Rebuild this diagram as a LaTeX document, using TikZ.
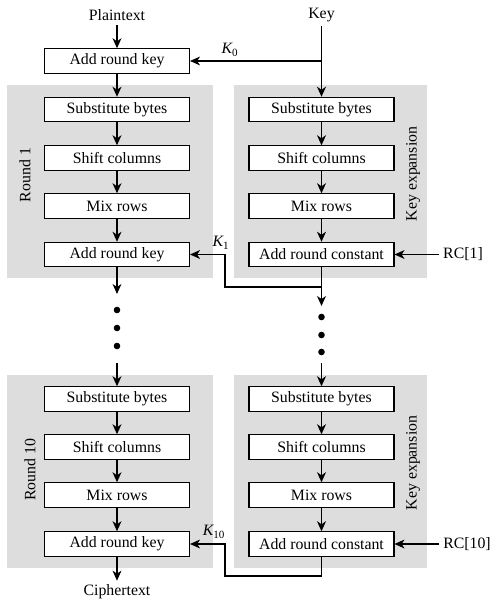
\documentclass[tikz,border=0pt]{standalone}
\usepackage{fontspec}
\setmainfont{Liberation Serif}
\definecolor{panelgray}{RGB}{221,221,221}
\usetikzlibrary{arrows.meta,calc}

\tikzset{
  stage/.style={draw, line width=0.9pt, fill=white, minimum width=4.35cm, minimum height=0.73cm, inner sep=0pt},
  flow/.style={line width=1.3pt, -{Stealth[length=8.5pt,width=7.5pt,inset=2.5pt]}},
  wire/.style={line width=1.3pt},
  vlabel/.style={rotate=90}
}

\begin{document}
\begin{tikzpicture}[x=0.03cm, y=-0.03cm, font=\fontsize{13.5}{16}\selectfont]
    \useasboundingbox (0,0) rectangle (500,602);

    % Gray panels
    \fill[panelgray] (7,85) rectangle (213,278);
    \fill[panelgray] (234,85) rectangle (427,278);
    \fill[panelgray] (7,375) rectangle (213,568);
    \fill[panelgray] (234,375) rectangle (427,568);

    % Inputs
    \node (plain) at (117,15) {Plaintext};
    \node (key) at (321.5,15) {Key};
    \node[stage] (ark0) at (117,61) {Add round key};

    % Round 1
    \node[stage] (sb1) at (117,109.5) {Substitute bytes};
    \node[stage] (sc1) at (117,158) {Shift columns};
    \node[stage] (mr1) at (117,206) {Mix rows};
    \node[stage] (ark1) at (117,254.5) {Add round key};
    \node[vlabel] (rnd1) at (25,175) {Round 1};

    % Key expansion 1
    \node[stage] (ksb1) at (321.5,109.5) {Substitute bytes};
    \node[stage] (ksc1) at (321.5,158) {Shift columns};
    \node[stage] (kmr1) at (321.5,206) {Mix rows};
    \node[stage] (arc1) at (321.5,254.5) {Add round constant};
    \node[vlabel] (kexp1) at (413,174) {Key expansion};
    \node (rc1) at (463,254.5) {RC[1]};

    % Round 10
    \node[stage] (sb10) at (117,399) {Substitute bytes};
    \node[stage] (sc10) at (117,447) {Shift columns};
    \node[stage] (mr10) at (117,495) {Mix rows};
    \node[stage] (ark10) at (117,544) {Add round key};
    \node[vlabel] (rnd10) at (30,470) {Round 10};

    % Key expansion 10
    \node[stage] (ksb10) at (321.5,399) {Substitute bytes};
    \node[stage] (ksc10) at (321.5,447) {Shift columns};
    \node[stage] (kmr10) at (321.5,495) {Mix rows};
    \node[stage] (arc10) at (321.5,544) {Add round constant};
    \node[vlabel] (kexp10) at (413,463) {Key expansion};
    \node (rc10) at (467,544) {RC[10]};

    \node (cipher) at (117,592) {Ciphertext};

    % Key labels
    \node (k0lab) at (230,50) {\itshape K\textsubscript{\upshape 0}};
    \node (k1lab) at (221,243) {\itshape K\textsubscript{\upshape 1}};
    \node (k10lab) at (214,532) {\itshape K\textsubscript{\upshape 10}};

    % Helper points
    \coordinate (k0) at (321.5,61);
    \coordinate (j1) at (321.5,287);
    \coordinate (bend1) at (225,287);
    \coordinate (j10) at (321.5,576);
    \coordinate (bend10) at (225,576);
    \coordinate (gapL) at (117,294);
    \coordinate (gapR) at (321.5,306);
    \coordinate (resumeL) at (117,363);
    \coordinate (resumeR) at (321.5,363);

    % Data path
    \draw[flow] (plain) -- (ark0);
    \draw[flow] (ark0) -- (sb1);
    \draw[flow] (sb1) -- (sc1);
    \draw[flow] (sc1) -- (mr1);
    \draw[flow] (mr1) -- (ark1);
    \draw[flow] (ark1) -- (gapL);
    \draw[flow] (resumeL) -- (sb10);
    \draw[flow] (sb10) -- (sc10);
    \draw[flow] (sc10) -- (mr10);
    \draw[flow] (mr10) -- (ark10);
    \draw[flow] (ark10) -- (cipher);

    % Key path
    \draw[flow] (key) -- (ksb1);
    \draw[flow] (k0) -- (ark0);
    \draw[flow] (ksb1) -- (ksc1);
    \draw[flow] (ksc1) -- (kmr1);
    \draw[flow] (kmr1) -- (arc1);
    \draw[flow] (rc1) -- (arc1);
    \draw[flow] (arc1) -- (gapR);
    \draw[flow] (j1) -- (bend1) |- (ark1.east);
    \draw[flow] (resumeR) -- (ksb10);
    \draw[flow] (ksb10) -- (ksc10);
    \draw[flow] (ksc10) -- (kmr10);
    \draw[flow] (kmr10) -- (arc10);
    \draw[flow] (rc10) -- (arc10);
    \draw[flow] (arc10) -- (j10) -- (bend10) |- (ark10.east);

    % Dots
    \foreach \y in {310,328,346} \fill (117,\y) circle[radius=3.3];
    \foreach \y in {317,335,352} \fill (321.5,\y) circle[radius=3.3];
\end{tikzpicture}
\end{document}
